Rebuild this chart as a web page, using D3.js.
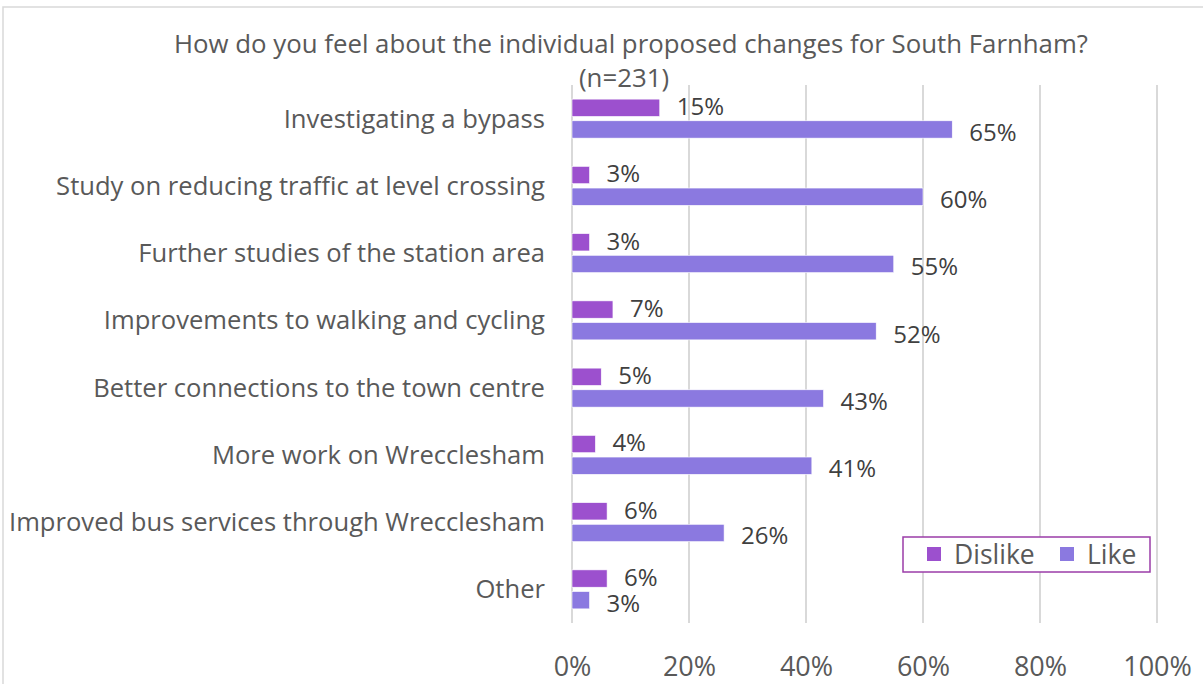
<!DOCTYPE html>
<html>
<head>
<meta charset="utf-8">
<script src="https://cdn.jsdelivr.net/npm/d3@7"></script>
<style>
  html, body { margin: 0; padding: 0; background: #fff; }
  svg { display: block; font-family: "Open Sans", "Noto Sans", sans-serif; }
</style>
</head>
<body>
<svg id="chart" width="1203" height="684"></svg>
<script>
// Survey responses: share of respondents per proposed change
const categories = [
  "Investigating a bypass",
  "Study on reducing traffic at level crossing",
  "Further studies of the station area",
  "Improvements to walking and cycling",
  "Better connections to the town centre",
  "More work on Wrecclesham",
  "Improved bus services through Wrecclesham",
  "Other"
];
const dislike = [15, 3, 3, 7, 5, 4, 6, 6];
const like = [65, 60, 55, 52, 43, 41, 26, 3];
const seriesNames = ["Dislike", "Like"];
const seriesColors = ["#9C50CE", "#8B79E0"];
const xTicks = [0, 20, 40, 60, 80, 100];
const titleLines = ["How do you feel about the individual proposed changes for South Farnham?", "(n=231)"];

const svg = d3.select("#chart");
const W = 1203, H = 684;
const plot = { left: 572, right: 1157, top: 85, bottom: 623 };

// Chart area outline
svg.append("rect")
  .attr("x", 3).attr("y", 7)
  .attr("width", W + 20).attr("height", H + 20)
  .attr("fill", "#fff").attr("stroke", "#d9d9d9").attr("stroke-width", 1.5);

const x = d3.scaleLinear().domain([0, 100]).range([plot.left, plot.right]);
const y = d3.scaleBand().domain(categories).range([plot.top, plot.bottom])
  .paddingInner(0.42).paddingOuter(0.21);
const ySub = d3.scaleBand().domain(seriesNames).range([0, y.bandwidth()]).paddingInner(0.2);

// Vertical gridlines
svg.append("g").selectAll("line").data(xTicks).join("line")
  .attr("x1", d => x(d)).attr("x2", d => x(d))
  .attr("y1", plot.top).attr("y2", plot.bottom)
  .attr("stroke", "#d9d9d9").attr("stroke-width", 2);

// Axis tick labels
const xAxis = d3.axisBottom(x).tickValues(xTicks).tickFormat(d => d + "%").tickSize(0).tickPadding(0);
const gx = svg.append("g").attr("transform", `translate(0,${plot.bottom})`).call(xAxis);
gx.select(".domain").remove();
gx.selectAll("text")
  .attr("y", 53).attr("dy", null)
  .attr("fill", "#595959").style("font-size", "27px").style("font-family", "'Open Sans', 'Noto Sans', sans-serif");

// Category labels
svg.append("g").selectAll("text").data(categories).join("text")
  .attr("x", plot.left - 27)
  .attr("y", d => y(d) + y.bandwidth() / 2)
  .attr("dy", "0.35em")
  .attr("text-anchor", "end")
  .attr("fill", "#595959")
  .style("font-size", "25.6px")
  .text(d => d);

// Bars
const rows = categories.map((c, i) => ({ c, values: [dislike[i], like[i]] }));
const groups = svg.append("g").selectAll("g").data(rows).join("g")
  .attr("transform", d => `translate(0,${y(d.c)})`);

groups.selectAll("rect").data(d => d.values.map((v, j) => ({ v, s: seriesNames[j], j }))).join("rect")
  .attr("x", x(0))
  .attr("y", d => ySub(d.s))
  .attr("width", d => x(d.v) - x(0))
  .attr("height", ySub.bandwidth())
  .attr("fill", d => seriesColors[d.j])
  .attr("stroke", "#fff").attr("stroke-width", 0.6);

// Value labels
groups.selectAll("text").data(d => d.values.map((v, j) => ({ v, s: seriesNames[j], j }))).join("text")
  .attr("x", d => x(d.v) + 17)
  .attr("y", d => ySub(d.s) + ySub.bandwidth() / 2 + (d.j === 0 ? -1 : 3))
  .attr("dy", "0.35em")
  .attr("fill", "#404040")
  .style("font-size", "24px")
  .text(d => d.v + "%");

// Title
const title = svg.append("text")
  .attr("x", 631).attr("y", 53)
  .attr("text-anchor", "middle")
  .attr("fill", "#595959")
  .style("font-size", "25.8px");
title.selectAll("tspan").data(titleLines).join("tspan")
  .attr("x", (d, i) => i === 0 ? 631 : 624)
  .attr("dy", (d, i) => i === 0 ? 0 : 34)
  .text(d => d);

// Legend
const legend = svg.append("g").attr("transform", "translate(903,537)");
legend.append("rect")
  .attr("width", 247).attr("height", 35)
  .attr("fill", "#fff").attr("stroke", "#9B3CA8").attr("stroke-width", 1.5);
const legendX = [24, 157];
const items = legend.selectAll("g.item").data(seriesNames).join("g")
  .attr("class", "item")
  .attr("transform", (d, i) => `translate(${legendX[i]},0)`);
items.append("rect")
  .attr("x", 0).attr("y", 10).attr("width", 14).attr("height", 14)
  .attr("fill", (d, i) => seriesColors[i]);
items.append("text")
  .attr("x", 27).attr("y", 18).attr("dy", "0.35em")
  .attr("fill", "#595959").style("font-size", "26.5px")
  .text(d => d);
</script>
</body>
</html>
